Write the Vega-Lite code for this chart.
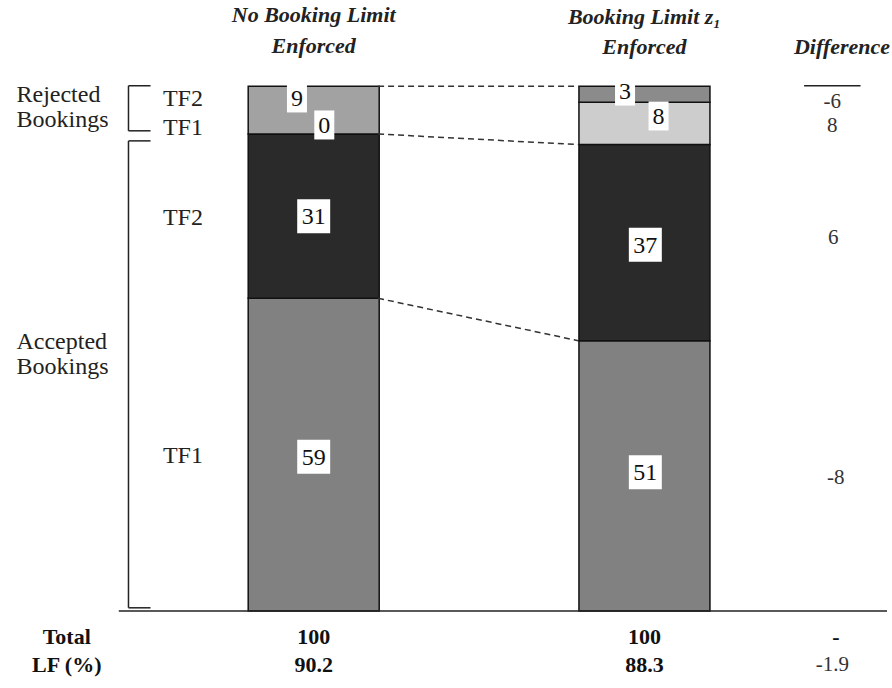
{
  "$schema": "https://vega.github.io/schema/vega-lite/v6.json",
  "autosize": {"type": "none"},
  "width": 892,
  "height": 688,
  "padding": 0,
  "background": "white",
  "config": {"view": {"stroke": null}},
  "layer": [
    {
      "data": {"values": [
        {"scenario": "No Booking Limit Enforced", "col": 35.0, "segment": "Accepted TF1", "value": 59, "order": 1},
        {"scenario": "No Booking Limit Enforced", "col": 35.0, "segment": "Accepted TF2", "value": 31, "order": 2},
        {"scenario": "No Booking Limit Enforced", "col": 35.0, "segment": "Rejected TF1", "value": 0, "order": 3},
        {"scenario": "No Booking Limit Enforced", "col": 35.0, "segment": "Rejected TF2 (no limit)", "value": 9, "order": 4},
        {"scenario": "Booking Limit z1 Enforced", "col": 72.5, "segment": "Accepted TF1", "value": 51, "order": 1},
        {"scenario": "Booking Limit z1 Enforced", "col": 72.5, "segment": "Accepted TF2", "value": 37, "order": 2},
        {"scenario": "Booking Limit z1 Enforced", "col": 72.5, "segment": "Rejected TF1", "value": 8, "order": 3},
        {"scenario": "Booking Limit z1 Enforced", "col": 72.5, "segment": "Rejected TF2", "value": 3, "order": 4}
      ]},
      "mark": {"type": "bar", "width": 131, "stroke": "#111111", "strokeWidth": 1.5},
      "encoding": {
        "x": {"field": "col", "type": "quantitative", "scale": {"domain": [0, 100], "nice": false, "zero": false}, "axis": null},
        "y": {"field": "value", "type": "quantitative", "stack": "zero", "scale": {"domain": [-14.53, 115.28], "nice": false, "zero": false}, "axis": null},
        "order": {"field": "order", "type": "quantitative"},
        "color": {"field": "segment", "type": "nominal", "legend": null,
          "scale": {"domain": ["Accepted TF1", "Accepted TF2", "Rejected TF1", "Rejected TF2 (no limit)", "Rejected TF2"],
                    "range": ["#818181", "#2a2a2a", "#cdcdcd", "#a2a2a2", "#8b8b8b"]}}
      }
    },
    {
      "data": {"values": [
        {"x": 42.3, "y": 99, "x2": 65.0, "y2": 99},
        {"x": 42.3, "y": 90, "x2": 65.0, "y2": 88},
        {"x": 42.3, "y": 59, "x2": 65.0, "y2": 51}
      ]},
      "mark": {"type": "rule", "strokeDash": [6, 4], "strokeWidth": 1.5, "color": "#333333"},
      "encoding": {
        "x": {"field": "x", "type": "quantitative"},
        "y": {"field": "y", "type": "quantitative"},
        "x2": {"field": "x2"},
        "y2": {"field": "y2"}
      }
    },
    {
      "data": {"values": [
        {"x": 14.0, "y": 99.1, "x2": 14.0, "y2": 90.6},
        {"x": 14.0, "y": 99.1, "x2": 16.5, "y2": 99.1},
        {"x": 14.0, "y": 90.6, "x2": 16.5, "y2": 90.6},
        {"x": 14.0, "y": 88.7, "x2": 14.0, "y2": 0.6},
        {"x": 14.0, "y": 88.7, "x2": 16.5, "y2": 88.7},
        {"x": 14.0, "y": 0.6, "x2": 16.5, "y2": 0.6},
        {"x": 12.9, "y": 0, "x2": 100, "y2": 0},
        {"x": 90.6, "y": 99.1, "x2": 97.0, "y2": 99.1}
      ]},
      "mark": {"type": "rule", "strokeWidth": 1.5, "color": "#222222"},
      "encoding": {
        "x": {"field": "x", "type": "quantitative"},
        "y": {"field": "y", "type": "quantitative"},
        "x2": {"field": "x2"},
        "y2": {"field": "y2"}
      }
    },
    {
      "data": {"name": "labels", "values": [
        {"x": 33.1, "y": 96.8, "label": "9"},
        {"x": 36.2, "y": 91.7, "label": "0"},
        {"x": 35.0, "y": 74.5, "label": "31"},
        {"x": 35.0, "y": 29.1, "label": "59"},
        {"x": 70.3, "y": 98.1, "label": "3"},
        {"x": 74.1, "y": 93.4, "label": "8"},
        {"x": 72.6, "y": 69.1, "label": "37"},
        {"x": 72.6, "y": 26.2, "label": "51"}
      ]},
      "layer": [
        {
          "transform": [{"filter": "length(datum.label) == 1"}],
          "mark": {"type": "point", "shape": "M-0.69,-1H0.69V1H-0.69Z", "size": 841, "filled": true, "color": "white", "opacity": 1, "strokeWidth": 0},
          "encoding": {
            "x": {"field": "x", "type": "quantitative"},
            "y": {"field": "y", "type": "quantitative"}
          }
        },
        {
          "transform": [{"filter": "length(datum.label) == 2"}],
          "mark": {"type": "point", "shape": "M-0.97,-1H0.97V1H-0.97Z", "size": 1156, "filled": true, "color": "white", "opacity": 1, "strokeWidth": 0},
          "encoding": {
            "x": {"field": "x", "type": "quantitative"},
            "y": {"field": "y", "type": "quantitative"}
          }
        },
        {
          "mark": {"type": "text", "font": "Liberation Serif", "fontSize": 24, "color": "#111111", "baseline": "middle", "align": "center", "dy": 1},
          "encoding": {
            "x": {"field": "x", "type": "quantitative"},
            "y": {"field": "y", "type": "quantitative"},
            "text": {"field": "label"}
          }
        }
      ]
    },
    {
      "data": {"values": [
        {"x": 1.3, "y": 97.3, "t": "Rejected"},
        {"x": 1.3, "y": 92.6, "t": "Bookings"},
        {"x": 1.3, "y": 50.8, "t": "Accepted"},
        {"x": 1.3, "y": 46.0, "t": "Bookings"},
        {"x": 17.9, "y": 96.6, "t": "TF2"},
        {"x": 17.9, "y": 91.1, "t": "TF1"},
        {"x": 17.9, "y": 74.2, "t": "TF2"},
        {"x": 17.9, "y": 29.2, "t": "TF1"}
      ]},
      "mark": {"type": "text", "font": "Liberation Serif", "fontSize": 24, "color": "#222222", "baseline": "middle", "align": "left"},
      "encoding": {
        "x": {"field": "x", "type": "quantitative"},
        "y": {"field": "y", "type": "quantitative"},
        "text": {"field": "t"}
      }
    },
    {
      "data": {"values": [
        {"x": 35.0, "y": 112.5, "t": "No Booking Limit"},
        {"x": 35.0, "y": 106.6, "t": "Enforced"},
        {"x": 72.5, "y": 112.1, "t": "Booking Limit z₁"},
        {"x": 72.5, "y": 106.4, "t": "Enforced"},
        {"x": 94.9, "y": 106.4, "t": "Difference"}
      ]},
      "mark": {"type": "text", "font": "Liberation Serif", "fontSize": 22, "fontWeight": "bold", "fontStyle": "italic", "color": "#222222", "baseline": "middle", "align": "center"},
      "encoding": {
        "x": {"field": "x", "type": "quantitative"},
        "y": {"field": "y", "type": "quantitative"},
        "text": {"field": "t"}
      }
    },
    {
      "data": {"values": [
        {"x": 93.8, "y": 96.0, "t": "-6"},
        {"x": 93.8, "y": 91.5, "t": "8"},
        {"x": 93.9, "y": 70.4, "t": "6"},
        {"x": 94.2, "y": 25.1, "t": "-8"},
        {"x": 93.8, "y": -10.2, "t": "-1.9"}
      ]},
      "mark": {"type": "text", "font": "Liberation Serif", "fontSize": 21, "color": "#333333", "baseline": "middle", "align": "center"},
      "encoding": {
        "x": {"field": "x", "type": "quantitative"},
        "y": {"field": "y", "type": "quantitative"},
        "text": {"field": "t"}
      }
    },
    {
      "data": {"values": [
        {"x": 7.0, "y": -4.9, "t": "Total"},
        {"x": 7.0, "y": -10.2, "t": "LF (%)"},
        {"x": 35.0, "y": -4.9, "t": "100"},
        {"x": 35.0, "y": -10.2, "t": "90.2"},
        {"x": 72.5, "y": -4.9, "t": "100"},
        {"x": 72.5, "y": -10.2, "t": "88.3"},
        {"x": 94.2, "y": -4.9, "t": "-"}
      ]},
      "mark": {"type": "text", "font": "Liberation Serif", "fontSize": 22, "fontWeight": "bold", "color": "#111111", "baseline": "middle", "align": "center"},
      "encoding": {
        "x": {"field": "x", "type": "quantitative"},
        "y": {"field": "y", "type": "quantitative"},
        "text": {"field": "t"}
      }
    }
  ]
}
